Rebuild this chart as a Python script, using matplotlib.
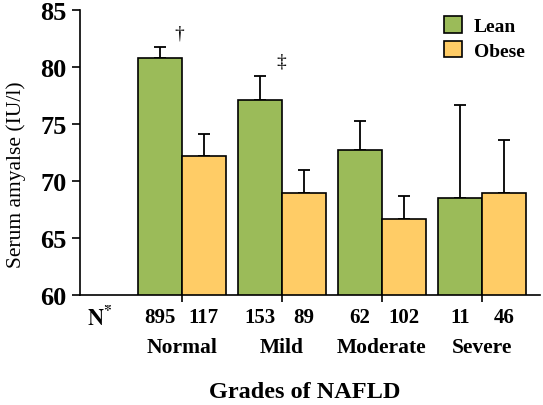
import matplotlib.pyplot as plt
import numpy as np

plt.rcParams['font.family'] = 'Liberation Serif'
plt.rcParams['mathtext.fontset'] = 'stix'

# data
grades = ['Normal', 'Mild', 'Moderate', 'Severe']
lean_mean = [80.75, 77.1, 72.7, 68.45]
lean_err = [0.95, 2.1, 2.5, 8.2]
obese_mean = [72.15, 68.95, 66.6, 68.95]
obese_err = [1.95, 2.0, 2.1, 4.65]
n_lean = [895, 153, 62, 11]
n_obese = [117, 89, 102, 46]

green = '#9BBB59'
orange = '#FFCC66'
w = 0.44
x = np.arange(len(grades))

fig = plt.figure(figsize=(5.43, 4.06), dpi=100)
ax = fig.add_axes([0.147, 0.2717, 0.847, 0.7019])

ekw = dict(ecolor='black', elinewidth=1.3, capsize=4, capthick=1.3)
ax.bar(x - w/2, lean_mean, w, color=green, edgecolor='black', linewidth=1.2,
       label='Lean', zorder=2)
ax.errorbar(x - w/2, lean_mean, yerr=[np.zeros(4), lean_err], fmt='none', zorder=1, **ekw)
ax.bar(x + w/2, obese_mean, w, color=orange, edgecolor='black', linewidth=1.2,
       label='Obese', zorder=2)
ax.errorbar(x + w/2, obese_mean, yerr=[np.zeros(4), obese_err], fmt='none', zorder=1, **ekw)

ax.set_ylim(60, 85)
ax.set_xlim(-1.02, 3.58)
ax.set_yticks([60, 65, 70, 75, 80, 85])
ax.tick_params(axis='y', labelsize=19, width=1.2, length=6)
for lab in ax.get_yticklabels():
    lab.set_fontweight('bold')
ax.set_xticks(x)
ax.set_xticklabels([])
ax.tick_params(axis='x', width=1.2, length=5)
ax.spines['top'].set_visible(False)
ax.spines['right'].set_visible(False)
ax.spines['left'].set_linewidth(1.2)
ax.spines['bottom'].set_linewidth(1.2)

# significance marks
ax.text(x[0] - 0.03, 83.0, '\u2020', ha='center', va='center', fontsize=14)
ax.text(x[1] - 0.01, 80.5, '\u2021', ha='center', va='center', fontsize=14)

# N counts and group names below the axis
tr = ax.get_xaxis_transform()
ax.text(-0.82, -0.078, r'$\mathbf{N^{*}}$', transform=tr, ha='center', va='center', fontsize=16)
for i in range(len(grades)):
    ax.text(x[i] - w/2, -0.078, str(n_lean[i]), transform=tr, ha='center', va='center',
            fontsize=15, fontweight='bold')
    ax.text(x[i] + w/2, -0.078, str(n_obese[i]), transform=tr, ha='center', va='center',
            fontsize=15, fontweight='bold')
    ax.text(x[i], -0.184, grades[i], transform=tr, ha='center', va='center',
            fontsize=15.5, fontweight='bold')
ax.text(0.49, -0.338, 'Grades of NAFLD', transform=ax.transAxes, ha='center', va='center',
        fontsize=17.5, fontweight='bold')

fig.text(0.03, 1 - 175/406, 'Serum amyalse (IU/l)', rotation=90, ha='center', va='center',
         fontsize=15.5)

leg = ax.legend(loc='upper right', bbox_to_anchor=(1.005, 1.04), frameon=False,
                prop={'weight': 'bold', 'size': 14}, handlelength=0.95, handleheight=0.95,
                handletextpad=0.6, labelspacing=0.3)

fig.savefig('out.png', dpi=100)
